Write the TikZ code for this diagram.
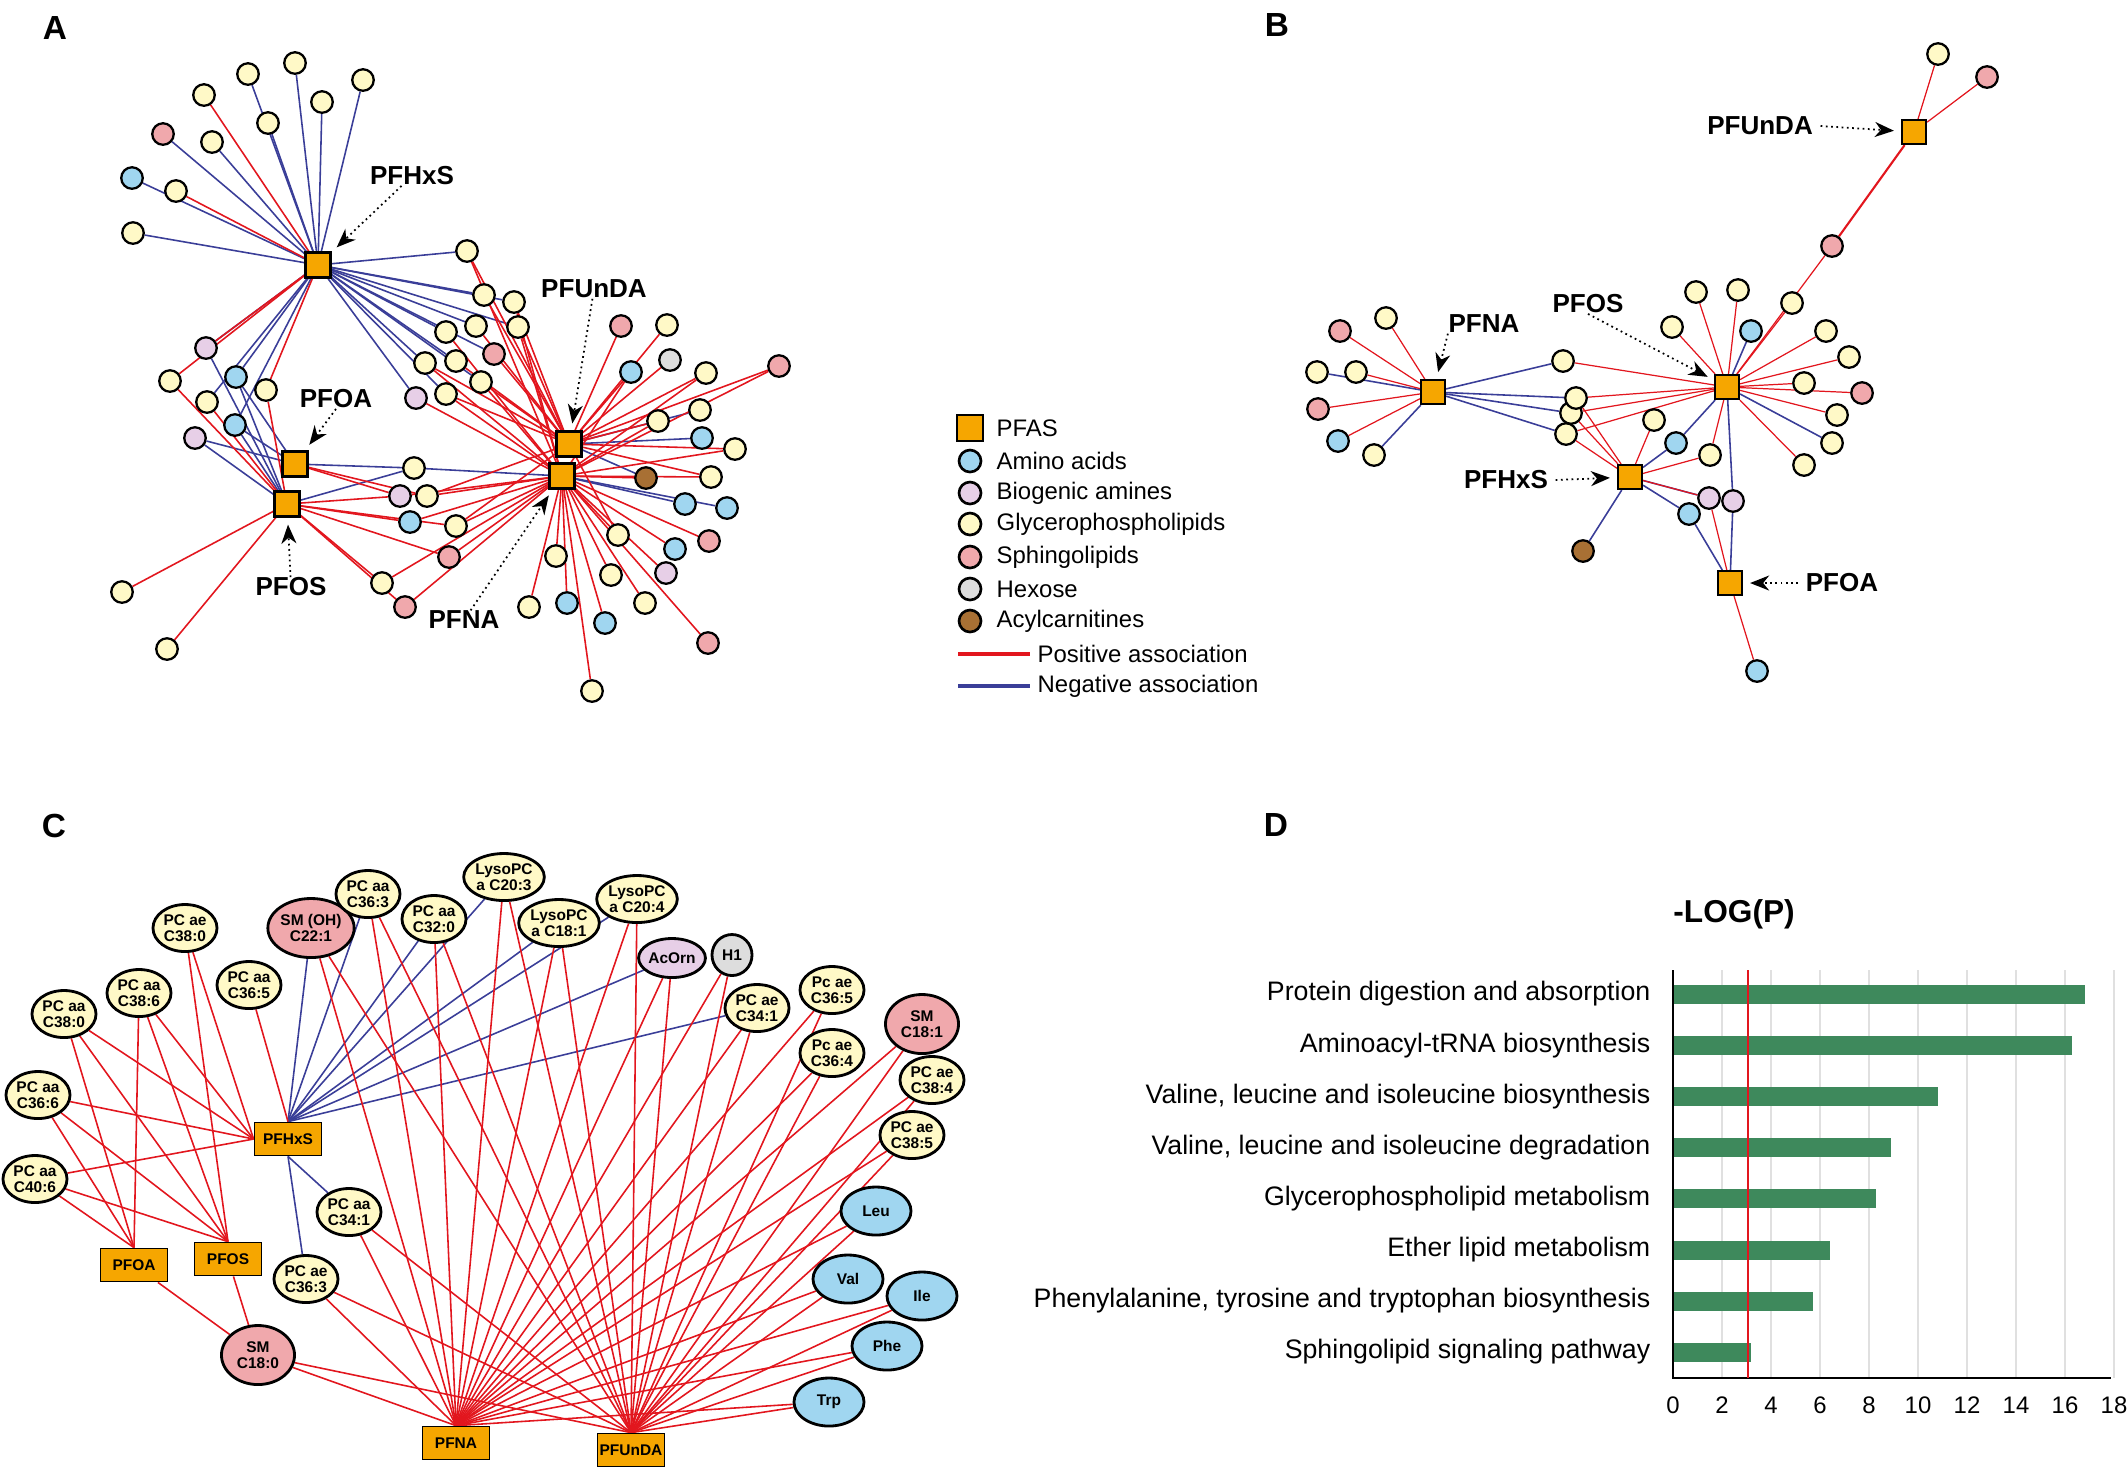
\documentclass[tikz,border=0pt]{standalone}
\usepackage{fontspec}
\setmainfont{Liberation Sans}
\usepackage{xcolor}
\usepackage{tikz}
\usetikzlibrary{arrows.meta}
\usetikzlibrary{shapes.geometric}
\usetikzlibrary{backgrounds}

\definecolor{pfasorange}{RGB}{246,166,0}
\definecolor{aminoblue}{RGB}{160,214,240}
\definecolor{amineviolet}{RGB}{231,207,231}
\definecolor{glycyellow}{RGB}{255,249,199}
\definecolor{sphpink}{RGB}{240,168,172}
\definecolor{hexgray}{RGB}{221,221,221}
\definecolor{acylbrown}{RGB}{168,112,52}
\definecolor{posred}{RGB}{226,22,30}
\definecolor{negblue}{RGB}{58,62,152}
\definecolor{bargreen}{RGB}{62,137,92}

\newcommand{\panelfont}{\fontsize{9.5}{11}\selectfont\bfseries}
\newcommand{\pfaslabel}{\fontsize{7.4}{8}\selectfont\bfseries}
\newcommand{\legendfont}{\fontsize{6.8}{8}\selectfont}
\newcommand{\cfont}{\fontsize{4.4}{4.7}\selectfont\bfseries}
\newcommand{\pathfont}{\fontsize{7.6}{9}\selectfont}

\tikzset{
  pfas/.style={rectangle,draw,line width=0.6pt,fill=pfasorange,inner sep=0pt,minimum size=2.4mm},
  met/.style={circle,draw,line width=0.65pt,inner sep=0pt,minimum size=2.15mm},
  aa/.style={fill=aminoblue},
  ba/.style={fill=amineviolet},
  gp/.style={fill=glycyellow},
  sl/.style={fill=sphpink},
  hx/.style={fill=hexgray},
  ac/.style={fill=acylbrown},
  callout/.style={densely dotted,line width=0.5pt,shorten >=2pt,-{Stealth[length=1.9mm,width=1.5mm,inset=0.6mm]}},
  cmet/.style={ellipse,draw,line width=0.8pt,inner sep=0pt,minimum width=6.4mm,minimum height=4.7mm,font=\cfont,align=center},
  cbig/.style={minimum width=7.3mm,minimum height=5.9mm},
  cpfas/.style={rectangle,draw,line width=0.5pt,fill=pfasorange,inner sep=0pt,minimum width=6.7mm,minimum height=3.3mm,font=\cfont}
}

\begin{document}
\begin{tikzpicture}[x=0.01cm,y=-0.01cm,every node/.style={inner sep=0pt}]
    \useasboundingbox (0,0) rectangle (2128,1468);

    % panel letters
    \node[font=\panelfont] (pA) at (55,28) {A};
    \node[font=\panelfont] (pB) at (1277,25) {B};
    \node[font=\panelfont] (pC) at (54,826) {C};
    \node[font=\panelfont] (pD) at (1276,825) {D};

    % ---------------- A ----------------
    \node[pfas,minimum size=2.5mm] (aHxS) at (318,265) {};
    \node[pfas,minimum size=2.5mm] (aOA) at (295,464) {};
    \node[pfas,minimum size=2.5mm] (aOS) at (287,504) {};
    \node[pfas,minimum size=2.5mm] (aUnDA) at (569,444) {};
    \node[pfas,minimum size=2.5mm] (aNA) at (562,476) {};
    \begin{scope}[every node/.style={met}]
      \node[gp] (a1) at (295,63) {};
      \node[gp] (a2) at (248,74) {};
      \node[gp] (a3) at (204,95) {};
      \node[gp] (a4) at (322,102) {};
      \node[gp] (a5) at (363,80) {};
      \node[gp] (a6) at (268,123) {};
      \node[sl] (a7) at (163,134) {};
      \node[gp] (a8) at (212,142) {};
      \node[aa] (a9) at (132,178) {};
      \node[gp] (a10) at (176,191) {};
      \node[gp] (a11) at (133,233) {};
      \node[gp] (a12) at (467,251) {};
      \node[gp] (a13) at (484,295) {};
      \node[gp] (a14) at (514,302) {};
      \node[gp] (a15) at (476,326) {};
      \node[gp] (a16) at (518,327) {};
      \node[gp] (a17) at (446,332) {};
      \node[sl] (a18) at (494,354) {};
      \node[gp] (a19) at (425,363) {};
      \node[gp] (a20) at (456,361) {};
      \node[gp] (a21) at (481,382) {};
      \node[gp] (a22) at (446,394) {};
      \node[ba] (a23) at (416,398) {};
      \node[ba] (a24) at (206,348) {};
      \node[gp] (a25) at (170,381) {};
      \node[aa] (a26) at (236,377) {};
      \node[gp] (a27) at (266,390) {};
      \node[gp] (a28) at (207,402) {};
      \node[aa] (a29) at (235,425) {};
      \node[ba] (a30) at (195,438) {};
      \node[gp] (a31) at (414,468) {};
      \node[ba] (a32) at (400,496) {};
      \node[gp] (a33) at (427,496) {};
      \node[aa] (a34) at (410,522) {};
      \node[gp] (a35) at (456,526) {};
      \node[sl] (a36) at (449,557) {};
      \node[gp] (a37) at (382,583) {};
      \node[sl] (a38) at (405,607) {};
      \node[gp] (a39) at (122,592) {};
      \node[gp] (a40) at (167,649) {};
      \node[sl] (a41) at (621,326) {};
      \node[gp] (a42) at (667,325) {};
      \node[aa] (a43) at (631,372) {};
      \node[hx] (a44) at (670,360) {};
      \node[gp] (a45) at (706,373) {};
      \node[sl] (a46) at (779,366) {};
      \node[gp] (a47) at (700,410) {};
      \node[gp] (a48) at (658,421) {};
      \node[aa] (a49) at (702,438) {};
      \node[gp] (a50) at (735,449) {};
      \node[ac] (a51) at (646,478) {};
      \node[gp] (a52) at (711,477) {};
      \node[aa] (a53) at (685,504) {};
      \node[aa] (a54) at (727,508) {};
      \node[sl] (a55) at (709,541) {};
      \node[gp] (a56) at (618,535) {};
      \node[aa] (a57) at (675,549) {};
      \node[gp] (a58) at (556,556) {};
      \node[gp] (a59) at (611,575) {};
      \node[ba] (a60) at (666,573) {};
      \node[gp] (a61) at (645,603) {};
      \node[gp] (a62) at (529,607) {};
      \node[aa] (a63) at (567,603) {};
      \node[aa] (a64) at (605,623) {};
      \node[sl] (a65) at (708,643) {};
      \node[gp] (a66) at (592,691) {};
    \end{scope}
    \node[font=\pfaslabel] (lAHxS) at (412,176) {PFHxS};
    \node[font=\pfaslabel] (lAUnDA) at (594,289) {PFUnDA};
    \node[font=\pfaslabel] (lAOA) at (336,399) {PFOA};
    \node[font=\pfaslabel] (lAOS) at (291,587) {PFOS};
    \node[font=\pfaslabel] (lANA) at (464,620) {PFNA};
    \draw[callout] (lAHxS) -- (aHxS);
    \draw[callout] (lAUnDA) -- (aUnDA);
    \draw[callout] (lAOA.south) -- (aOA);
    \draw[callout] (lAOS) -- (aOS);
    \draw[callout] (lANA) -- (aNA);
    \begin{scope}[on background layer,every edge/.style={draw=negblue,line width=0.45pt}]
      \path (aHxS) edge (a1) edge (a2) edge (a4) edge (a5) edge (a6) edge (a7) edge (a8) edge (a9)
        edge (a11) edge (a12) edge (a13) edge (a14) edge (a15) edge (a16) edge (a17) edge (a18)
        edge (a19) edge (a20) edge (a21) edge (a22) edge (a23) edge (a24) edge (a26) edge (a28) edge (a29);
      \path (aOA) edge (a26) edge (a29) edge (a30) edge (a31);
      \path (aOS) edge (a24) edge (a26) edge (a29) edge (a30) edge (a31);
      \path (aNA) edge (a31) edge (a53) edge (a54);
      \path (aUnDA) edge (a47) edge (a49) edge (a51);
    \end{scope}
    \begin{scope}[on background layer,every edge/.style={draw=posred,line width=0.45pt}]
      \path (aHxS) edge (a3) edge (a10) edge (a24) edge (a25) edge (a27);
      \path (aOA) edge (a32) edge (a33);
      \path (aOS) edge (a25) edge (a27) edge (a28) edge (a39) edge (a40) edge (a32) edge (a34)
        edge (a35) edge (a36) edge (a37) edge (a38);
      \path (aUnDA) edge (a12) edge (a13) edge (a14) edge (a15) edge (a16) edge (a18) edge (a19)
        edge (a20) edge (a21) edge (a22) edge (a41) edge (a42) edge (a43) edge (a44) edge (a45)
        edge (a46) edge (a48) edge (a50) edge (a52) edge (a56) edge (a33) edge (a35);
      \path (aNA) edge (a12) edge (a14) edge (a16) edge (a17) edge (a19) edge (a21) edge (a22)
        edge (a23) edge (a32) edge (a33) edge (a34) edge (a35) edge (a36) edge (a37) edge (a38)
        edge (a43) edge (a45) edge (a46) edge (a48) edge (a50) edge (a51) edge (a52) edge (a55)
        edge (a56) edge (a57) edge (a58) edge (a59) edge (a60) edge (a61) edge (a62) edge (a63)
        edge (a64) edge (a65) edge (a66);
    \end{scope}

    % ---------------- legend ----------------
    \node[pfas,minimum size=2.6mm] (lg1) at (970,428) {};
    \begin{scope}[every node/.style={met,minimum size=2.2mm,line width=0.75pt}]
      \node[aa] (lg2) at (970,461) {};
      \node[ba] (lg3) at (970,493) {};
      \node[gp] (lg4) at (970,524) {};
      \node[sl] (lg5) at (970,557) {};
      \node[hx] (lg6) at (970,589) {};
      \node[ac] (lg7) at (970,621) {};
    \end{scope}
    \begin{scope}[every node/.style={anchor=west,inner sep=0pt,font=\legendfont}]
      \node (lt1) at (996,428) {PFAS};
      \node (lt2) at (996,461) {Amino acids};
      \node (lt3) at (996,493) {Biogenic amines};
      \node (lt4) at (996,524) {Glycerophospholipids};
      \node (lt5) at (996,557) {Sphingolipids};
      \node (lt6) at (996,589) {Hexose};
      \node (lt7) at (996,621) {Acylcarnitines};
      \node (lt8) at (1037,654) {Positive association};
      \node (lt9) at (1037,686) {Negative association};
    \end{scope}
    \coordinate (lpos) at (958,654);
    \coordinate (lneg) at (958,686);
    \draw[posred,line width=1.1pt] (lpos) -- ([xshift=-0.7mm]lt8.west);
    \draw[negblue,line width=1.1pt] (lneg) -- ([xshift=-0.7mm]lt9.west);

    % ---------------- B ----------------
    \node[pfas] (bUnDA) at (1914,132) {};
    \node[pfas] (bNA) at (1433,392) {};
    \node[pfas] (bOS) at (1727,387) {};
    \node[pfas] (bHxS) at (1630,477) {};
    \node[pfas] (bOA) at (1730,583) {};
    \begin{scope}[every node/.style={met}]
      \node[gp] (b1) at (1938,54) {};
      \node[sl] (b2) at (1987,77) {};
      \node[sl] (b3) at (1832,246) {};
      \node[gp] (b4) at (1696,292) {};
      \node[gp] (b5) at (1738,290) {};
      \node[gp] (b6) at (1792,303) {};
      \node[gp] (b7) at (1672,327) {};
      \node[aa] (b8) at (1751,331) {};
      \node[gp] (b9) at (1826,331) {};
      \node[gp] (b10) at (1849,357) {};
      \node[gp] (b11) at (1804,383) {};
      \node[sl] (b12) at (1862,393) {};
      \node[gp] (b13) at (1837,415) {};
      \node[gp] (b14) at (1832,443) {};
      \node[gp] (b15) at (1804,465) {};
      \node[gp] (b16) at (1563,361) {};
      \node[gp] (b19) at (1566,434) {};
      \node[gp] (b18) at (1571,413) {};
      \node[gp] (b17) at (1576,398) {};
      \node[gp] (b20) at (1654,420) {};
      \node[aa] (b21) at (1676,443) {};
      \node[gp] (b22) at (1710,455) {};
      \node[ba] (b23) at (1709,498) {};
      \node[ba] (b24) at (1733,501) {};
      \node[aa] (b25) at (1689,514) {};
      \node[ac] (b26) at (1583,551) {};
      \node[aa] (b27) at (1757,671) {};
      \node[gp] (b28) at (1386,318) {};
      \node[sl] (b29) at (1340,331) {};
      \node[gp] (b30) at (1317,372) {};
      \node[gp] (b31) at (1356,372) {};
      \node[sl] (b32) at (1318,409) {};
      \node[aa] (b33) at (1338,441) {};
      \node[gp] (b34) at (1374,455) {};
    \end{scope}
    \node[font=\pfaslabel] (lBUnDA) at (1760,126) {PFUnDA};
    \node[font=\pfaslabel] (lBNA) at (1484,324) {PFNA};
    \node[font=\pfaslabel] (lBOS) at (1588,304) {PFOS};
    \node[font=\pfaslabel] (lBHxS) at (1506,480) {PFHxS};
    \node[font=\pfaslabel] (lBOA) at (1842,583) {PFOA};
    \draw[callout] ([xshift=2pt]lBUnDA.east) -- (bUnDA);
    \draw[callout] (lBNA.south west) -- (bNA);
    \draw[callout] (lBOS.south) -- (bOS);
    \draw[callout] ([xshift=2pt]lBHxS.east) -- (bHxS);
    \draw[callout] ([xshift=-2pt]lBOA.west) -- (bOA);
    \begin{scope}[on background layer,every edge/.style={draw=negblue,line width=0.45pt}]
      \path (bOS) edge (b8) edge (b14) edge (b21) edge (b24);
      \path (bHxS) edge (b21) edge (b23) edge (b25) edge (b26);
      \path (bOA) edge (b24) edge (b25);
      \path (bNA) edge (b16) edge (b17) edge (b18) edge (b19) edge (b30) edge (b34);
    \end{scope}
    \begin{scope}[on background layer,every edge/.style={draw=posred,line width=0.35pt}]
      \path (bUnDA) edge (b1) edge (b2) edge[line width=0.6pt] (b3);
      \path (bOS) edge (b3) edge (b4) edge (b5) edge (b6) edge (b7) edge (b9) edge (b10) edge (b11)
        edge (b12) edge (b13) edge (b15) edge (b16) edge (b17) edge (b18) edge (b19) edge (b22);
      \path (bHxS) edge (b17) edge (b18) edge (b19) edge (b20) edge (b22) edge (b23);
      \path (bOA) edge (b23) edge (b27);
      \path (bNA) edge (b28) edge (b29) edge (b31) edge (b32) edge (b33);
    \end{scope}

    % ---------------- C ----------------
    \node[cpfas] (cHxS) at (288,1139) {PFHxS};
    \node[cpfas] (cOA) at (134,1265) {PFOA};
    \node[cpfas] (cOS) at (228,1259) {PFOS};
    \node[cpfas] (cNA) at (456,1443) {PFNA};
    \node[cpfas] (cUnDA) at (631,1450) {PFUnDA};
    \node[cmet,gp] (c1) at (185,928) {PC ae\\C38:0};
    \node[cmet,sl,cbig] (c2) at (311,928) {SM (OH)\\C22:1};
    \node[cmet,gp] (c3) at (368,894) {PC aa\\C36:3};
    \node[cmet,gp] (c4) at (434,919) {PC aa\\C32:0};
    \node[cmet,gp,minimum width=6.8mm] (c5) at (504,877) {LysoPC\\a C20:3};
    \node[cmet,gp,minimum width=6.8mm] (c6) at (559,923) {LysoPC\\a C18:1};
    \node[cmet,gp,minimum width=6.8mm] (c7) at (637,899) {LysoPC\\a C20:4};
    \node[cmet,ba,minimum width=5.2mm,minimum height=3.9mm] (c8) at (672,958) {AcOrn};
    \node[cmet,hx,minimum width=4mm,minimum height=4.1mm] (c9) at (732,955) {H1};
    \node[cmet,gp] (c10) at (139,993) {PC aa\\C38:6};
    \node[cmet,gp] (c11) at (249,985) {PC aa\\C36:5};
    \node[cmet,gp] (c12) at (64,1014) {PC aa\\C38:0};
    \node[cmet,gp] (c13) at (757,1008) {PC ae\\C34:1};
    \node[cmet,gp] (c14) at (832,990) {Pc ae\\C36:5};
    \node[cmet,sl,cbig] (c15) at (922,1024) {SM\\C18:1};
    \node[cmet,gp] (c16) at (832,1053) {Pc ae\\C36:4};
    \node[cmet,gp] (c17) at (932,1080) {PC ae\\C38:4};
    \node[cmet,gp] (c18) at (912,1135) {PC ae\\C38:5};
    \node[cmet,gp] (c19) at (38,1095) {PC aa\\C36:6};
    \node[cmet,gp] (c20) at (35,1179) {PC aa\\C40:6};
    \node[cmet,gp] (c21) at (349,1212) {PC aa\\C34:1};
    \node[cmet,gp] (c22) at (306,1279) {PC ae\\C36:3};
    \node[cmet,sl,cbig] (c23) at (258,1355) {SM\\C18:0};
    \node[cmet,aa,minimum width=7mm,minimum height=4.8mm] (c24) at (876,1211) {Leu};
    \node[cmet,aa,minimum width=7mm,minimum height=4.8mm] (c25) at (848,1279) {Val};
    \node[cmet,aa,minimum width=7mm,minimum height=4.8mm] (c26) at (922,1296) {Ile};
    \node[cmet,aa,minimum width=7mm,minimum height=4.8mm] (c27) at (887,1346) {Phe};
    \node[cmet,aa,minimum width=7mm,minimum height=4.8mm] (c28) at (829,1402) {Trp};
    \begin{scope}[on background layer,every edge/.style={draw=negblue,line width=0.45pt}]
      \path (cHxS.north) edge (c2) edge (c3) edge (c4) edge (c5) edge (c6) edge (c7) edge (c8) edge (c13);
      \path (cHxS.south) edge (c21) edge (c22);
    \end{scope}
    \begin{scope}[on background layer,every edge/.style={draw=posred,line width=0.45pt}]
      \path (cHxS.west) edge (c1) edge (c10) edge (c12) edge (c19) edge (c20);
      \path (cHxS.north) edge (c11);
      \path (cOA.north) edge (c10) edge (c12) edge (c19) edge (c20);
      \path (cOS.north) edge (c1) edge (c10) edge (c12) edge (c19) edge (c20);
      \path (cOA) edge (c23);
      \path (cOS) edge (c23);
      \path (cNA.north) edge (c2) edge (c3) edge (c4) edge (c5) edge (c6) edge (c7) edge (c8) edge (c9)
        edge (c13) edge (c14) edge (c15) edge (c16) edge (c17) edge (c18) edge (c21) edge (c22)
        edge (c23) edge (c24) edge (c25) edge (c26) edge (c27) edge (c28);
      \path (cUnDA.north) edge (c2) edge (c3) edge (c4) edge (c5) edge (c6) edge (c7) edge (c8) edge (c9)
        edge (c13) edge (c14) edge (c15) edge (c16) edge (c17) edge (c18) edge (c21) edge (c22)
        edge (c23) edge (c24) edge (c25) edge (c26) edge (c27) edge (c28);
    \end{scope}

    % ---------------- D ----------------
    \node[font=\fontsize{9}{10}\selectfont\bfseries] (dtitle) at (1734,914) {-LOG(P)};
    \foreach \n in {2,4,...,18}
      \draw[black!12,line width=0.4pt] ({1673+24.5*\n},970) -- ({1673+24.5*\n},1378);
    \foreach \v/\t [count=\i] in {16.8/{Protein digestion and absorption},
        16.3/{Aminoacyl-tRNA biosynthesis},
        10.8/{Valine, leucine and isoleucine biosynthesis},
        8.9/{Valine, leucine and isoleucine degradation},
        8.3/{Glycerophospholipid metabolism},
        6.4/{Ether lipid metabolism},
        5.7/{Phenylalanine, tyrosine and tryptophan biosynthesis},
        3.2/{Sphingolipid signaling pathway}} {
      \fill[bargreen] (1674,{985+51.1*(\i-1)}) rectangle ({1673+24.5*\v},{1004+51.1*(\i-1)});
      \node[anchor=east,font=\pathfont] (path\i) at (1651,{994+51.1*(\i-1)}) {\t};
    }
    \draw[black,line width=0.6pt] (1673,970) -- (1673,1378) -- (2111,1378);
    \draw[posred,line width=0.6pt] (1748,970) -- (1748,1378);
    \foreach \n in {0,2,...,18}
      \node[font=\legendfont] (tick\n) at ({1673+24.5*\n},1405) {\n};
\end{tikzpicture}
\end{document}
